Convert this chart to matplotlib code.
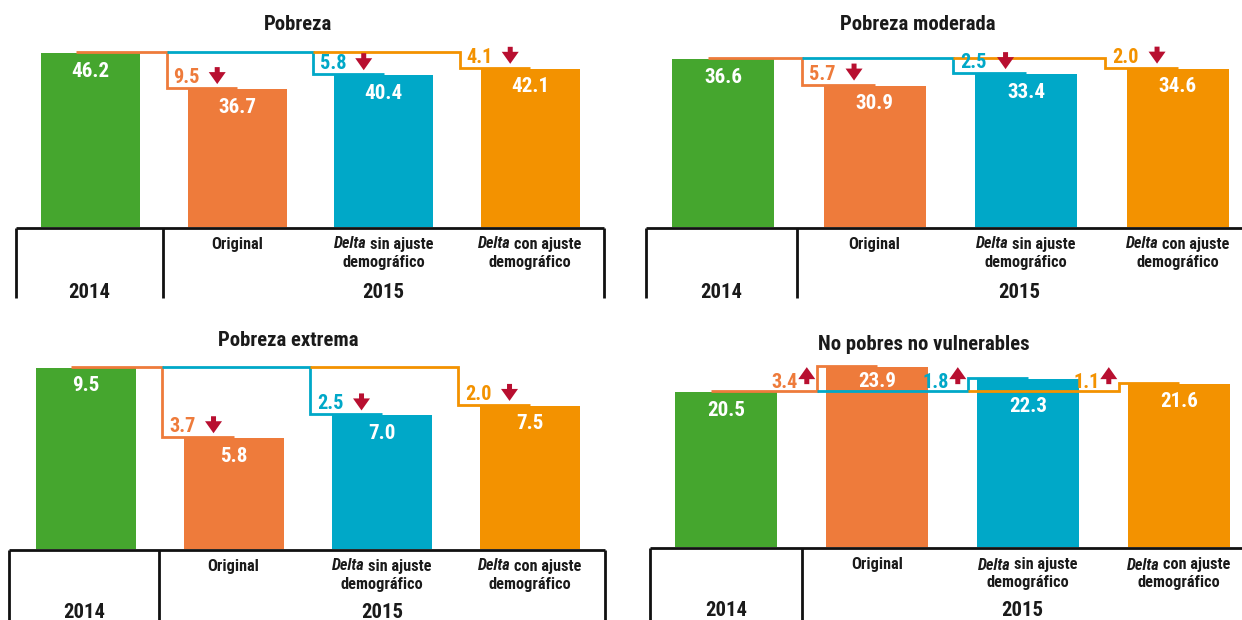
import matplotlib
matplotlib.use("Agg")
import matplotlib.pyplot as plt
from matplotlib import font_manager as fm
from matplotlib.font_manager import FontProperties

W, H = 1242, 620
DPI = 100

# ---------------- data ----------------
panel_titles = ["Pobreza", "Pobreza moderada", "Pobreza extrema", "No pobres no vulnerables"]
year_labels = ["2014", "2015"]
method_labels = ["Original", "*Delta* sin ajuste\ndemográfico", "*Delta* con ajuste\ndemográfico"]

pobreza = [46.2, 36.7, 40.4, 42.1]
pobreza_cambio = [9.5, 5.8, 4.1]
pobreza_moderada = [36.6, 30.9, 33.4, 34.6]
pobreza_moderada_cambio = [5.7, 2.5, 2.0]
pobreza_extrema = [9.5, 5.8, 7.0, 7.5]
pobreza_extrema_cambio = [3.7, 2.5, 2.0]
no_pobres = [20.5, 23.9, 22.3, 21.6]
no_pobres_cambio = [3.4, 1.8, 1.1]

series = [pobreza, pobreza_moderada, pobreza_extrema, no_pobres]
changes = [pobreza_cambio, pobreza_moderada_cambio, pobreza_extrema_cambio, no_pobres_cambio]

bar_colors = ["#45A62E", "#EE7B3B", "#00A8C8", "#F39200"]
arrow_color = "#B80F30"
text_color = "#1A1A1A"
frame_color = "#111111"

# ---------------- font selection (prefer a bold condensed face) ----------------
def _wt(e):
    w = e.weight
    return fm.weight_dict.get(w, 400) if isinstance(w, str) else w

def _st(e):
    s = e.stretch
    return fm.stretch_dict.get(s, 500) if isinstance(s, str) else s

pref = ["Liberation Sans Narrow", "Roboto Condensed", "Open Sans Condensed", "Noto Sans",
        "Open Sans", "Roboto", "DejaVu Sans", "Liberation Sans"]
entries = fm.fontManager.ttflist

def pick(italic):
    best = None
    for e in entries:
        narrow = _st(e) < 500 or "Narrow" in e.name or "Condensed" in e.name
        if not narrow or _wt(e) < 600:
            continue
        if (e.style != "normal") != italic:
            continue
        rank = pref.index(e.name) if e.name in pref else len(pref)
        score = (rank, abs(_st(e) - 300), abs(_wt(e) - 700))
        if best is None or score < best[0]:
            best = (score, e.fname)
    return best[1] if best else None

f_bold = pick(False)
f_bi = pick(True)
if f_bold:
    FP_B = FontProperties(fname=f_bold)
else:
    FP_B = FontProperties(family=["Liberation Sans", "DejaVu Sans"], weight="bold")
if f_bi:
    FP_BI = FontProperties(fname=f_bi)
else:
    FP_BI = FontProperties(family=["Liberation Sans", "DejaVu Sans"], weight="bold", style="italic")

fig = plt.figure(figsize=(W / DPI, H / DPI), dpi=DPI)
fig.patch.set_facecolor("white")
renderer = fig.canvas.get_renderer()


def fitted_size(sample, nominal, target_px):
    fp_ = FP_B.copy()
    fp_.set_size(nominal)
    t = fig.text(0, 0, sample, fontproperties=fp_)
    w = t.get_window_extent(renderer).width
    t.remove()
    f = min(1.2, max(0.7, target_px / w))
    return nominal * f

SZ_TITLE = fitted_size("Pobreza moderada", 14, 156)
SZ_VALUE = fitted_size("46.2", 14, 38)
SZ_DELTA = fitted_size("9.5", 13.5, 26.5)
SZ_METHOD = fitted_size("demográfico", 12.5, 82)
SZ_YEAR = fitted_size("2014", 15, 42)


def fp(size, italic=False):
    f = (FP_BI if italic else FP_B).copy()
    f.set_size(size)
    return f

# ---------------- layout (pixels) ----------------
AX_H = 192
layouts = [
    dict(cx0=90.5, sp=146.5, bw=99, base=227, ymax=51.1, title=(298, 25),
         frame=(16, 163, 604, 227.5, 298), right_v=True, lab_y=(244, 262), year_y=292),
    dict(cx0=723, sp=151.5, bw=102, base=227, ymax=41.95, title=(918, 25),
         frame=(646, 797, 1242, 227.5, 298), right_v=False, lab_y=(244, 262), year_y=292),
    dict(cx0=85.5, sp=148, bw=100, base=548.5, ymax=10.1, title=(288, 340),
         frame=(9, 159, 605, 549.5, 620), right_v=True, lab_y=(566, 584), year_y=612),
    dict(cx0=726, sp=151, bw=102, base=546.5, ymax=25.5, title=(924, 345),
         frame=(650, 802, 1242, 547.5, 620), right_v=False, lab_y=(565, 582), year_y=611),
]

LINE_W = 2.0


def arrow_poly(ax, x, y_tail_px, up, sx, sy, base_val):
    hl, hw, sl, sw = 12, 17, 5, 5
    s = 1 if up else -1
    y0 = y_tail_px
    ys = [y0, y0 + s * sl, y0 + s * sl, y0 + s * (sl + hl), y0 + s * sl, y0 + s * sl, y0]
    xs = [-sw / 2, -sw / 2, -hw / 2, 0, hw / 2, sw / 2, sw / 2]
    ax.fill([x + xx / sx for xx in xs], [base_val + yy / sy for yy in ys],
            color=arrow_color, lw=0, zorder=6, clip_on=False)


for p, (vals, chg, title, L) in enumerate(zip(series, changes, panel_titles, layouts)):
    sp, sy = L["sp"], AX_H / L["ymax"]
    left_px = L["cx0"] - 0.7 * sp
    ax = fig.add_axes([left_px / W, 1 - L["base"] / H, 4.4 * sp / W, AX_H / H])
    ax.set_xlim(-0.7, 3.7)
    ax.set_ylim(0, L["ymax"])
    ax.axis("off")
    x = list(range(len(vals)))
    ax.bar(x, vals, width=L["bw"] / sp, color=bar_colors, zorder=2)

    v0 = vals[0]
    # value labels (moved clear of a connector line that crosses the bar)
    for i, v in enumerate(vals):
        y_lab = v - 18 / sy
        crossed = 1 <= i < len(vals) - 1 and v > v0
        if crossed and abs(y_lab - v0) * sy < 10:
            if (v - v0) * sy >= 22:
                y_lab = v0 + 11 / sy
            else:
                y_lab = v0 - 14 / sy
        ax.text(i, y_lab, f"{v:.1f}", ha="center", va="center",
                color="white", fontproperties=fp(SZ_VALUE), zorder=7)

    # step connector lines
    off = 1.0 / sy
    start = -0.1
    for j in range(1, len(vals)):
        up = vals[j] > v0
        drop = j - (0.40 if up else 0.48)
        xs = [start, drop, drop, j]
        ys = [v0 + off, v0 + off, vals[j] + off, vals[j] + off]
        ax.plot(xs, ys, color=bar_colors[j], lw=LINE_W, zorder=4,
                solid_joinstyle="miter", solid_capstyle="butt", clip_on=False)
        start = drop
        if up:
            ax.text(drop - 0.125, v0 + 4 / sy, f"{chg[j-1]:.1f}", ha="right", va="baseline",
                    color=bar_colors[j], fontproperties=fp(SZ_DELTA), zorder=7)
            arrow_poly(ax, drop - 0.065, 8, True, sp, sy, v0)
        else:
            ax.text(j - 0.345, vals[j] + 6 / sy, f"{chg[j-1]:.1f}", ha="center", va="baseline",
                    color=bar_colors[j], fontproperties=fp(SZ_DELTA), zorder=7)
            arrow_poly(ax, j - 0.135, 22, False, sp, sy, vals[j])

# ---------------- overlay (frames, titles, category labels) ----------------
ov = fig.add_axes([0, 0, 1, 1], zorder=10)
ov.set_xlim(0, W)
ov.set_ylim(H, 0)
ov.axis("off")
ov.patch.set_alpha(0)


def mixed_line(xc, y, line, size):
    parts = []
    for k, seg in enumerate(line.split("*")):
        seg = seg.strip()
        if seg:
            parts.append((seg, k % 2 == 1))
    arts = [ov.text(0, y, t, fontproperties=fp(size, it), ha="left", va="center",
                    color=text_color) for t, it in parts]
    widths = [a.get_window_extent(renderer).width for a in arts]
    gap = size * 0.3
    total = sum(widths) + gap * (len(arts) - 1)
    xcur = xc - total / 2
    for a, w in zip(arts, widths):
        a.set_x(xcur)
        xcur += w + gap


for p, (title, L) in enumerate(zip(panel_titles, layouts)):
    fl, fmid, fr, ft, fb = L["frame"]
    ov.plot([fl, fr], [ft, ft], color=frame_color, lw=LINE_W, solid_capstyle="butt")
    vxs = [fl, fmid] + ([fr] if L["right_v"] else [])
    for vx in vxs:
        ov.plot([vx, vx], [ft, fb], color=frame_color, lw=LINE_W, solid_capstyle="butt")
    ov.text(L["title"][0], L["title"][1], title, ha="center", va="center",
            fontproperties=fp(SZ_TITLE), color=text_color)
    ov.text((fl + fmid) / 2, L["year_y"], year_labels[0], ha="center", va="center",
            fontproperties=fp(SZ_YEAR), color=text_color)
    ov.text((fmid + fr) / 2, L["year_y"], year_labels[1], ha="center", va="center",
            fontproperties=fp(SZ_YEAR), color=text_color)
    for j, lab in enumerate(method_labels):
        xc = L["cx0"] + (j + 1) * L["sp"]
        for k, line in enumerate(lab.split("\n")):
            mixed_line(xc, L["lab_y"][k], line, SZ_METHOD)

fig.savefig("out.png", dpi=DPI, facecolor="white")
